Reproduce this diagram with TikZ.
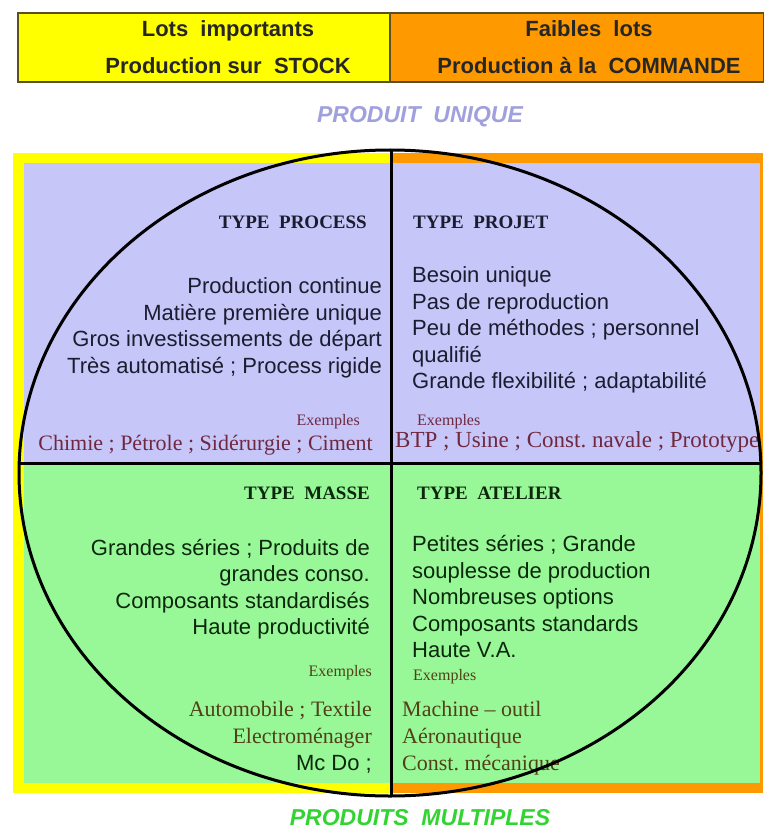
\documentclass[tikz,border=0pt]{standalone}
\usepackage{fontspec}
\setmainfont{Liberation Sans}
\newfontfamily\timesfont{Liberation Serif}
\usepackage{xcolor}
\usetikzlibrary{positioning}
\frenchspacing
\definecolor{jaune}{RGB}{255,255,0}
\definecolor{orangef}{RGB}{255,153,0}
\definecolor{lavande}{RGB}{198,198,248}
\definecolor{vertp}{RGB}{152,248,152}
\definecolor{bordtete}{RGB}{90,80,40}
\definecolor{coulunique}{RGB}{160,160,222}
\definecolor{coulmulti}{RGB}{50,212,50}
\definecolor{bordeaux}{RGB}{112,40,64}
\definecolor{olive}{RGB}{82,64,24}
\definecolor{encre}{RGB}{28,28,48}
\definecolor{encrevert}{RGB}{12,40,12}
\tikzset{
  tete/.style={font=\fontsize{22}{37}\selectfont\bfseries, align=center, text=black!85, inner sep=0pt},
  titre/.style={font=\timesfont\fontsize{19}{22}\selectfont\bfseries, inner sep=0pt},
  desc/.style={font=\fontsize{22}{26.5}\selectfont, inner sep=0pt},
  ex/.style={font=\timesfont\fontsize{16}{18}\selectfont, inner sep=0pt},
  exliste/.style={font=\timesfont\fontsize{22}{27}\selectfont, inner sep=0pt},
  grand/.style={font=\fontsize{23}{26}\selectfont\bfseries\itshape, inner sep=0pt},
  trait/.style={line width=3pt, black}
}
\begin{document}
\begin{tikzpicture}[x=1pt, y=-1pt]
    \useasboundingbox[fill=white] (0,0) rectangle (763,834);
    % En-tete
    \draw[fill=jaune, draw=bordtete, line width=2pt] (18,13) rectangle (390,82);
    \draw[fill=orangef, draw=bordtete, line width=2pt] (390,13) rectangle (764,82);
    \node[tete] (stock) at (228,47) {Lots\ \ importants\\Production sur\ \ STOCK};
    \node[tete] (commande) at (589,47) {Faibles\ \ lots\\Production à la\ \ COMMANDE};
    \node[grand, text=coulunique] (unique) at (420,117) {PRODUIT\ \ UNIQUE};
    % Cadres et fonds
    \fill[jaune] (13,153) rectangle (392,793);
    \fill[orangef] (392,153) rectangle (763,793);
    \fill[lavande] (24,163) rectangle (760,463);
    \fill[vertp] (24,463) rectangle (760,783);
    % Quadrant process
    \node[titre, text=encre, anchor=east] (process) at (367,222) {TYPE\ \ PROCESS};
    \node[desc, text=encre, align=right, anchor=east] (processdesc) at (382,328)
      {Production continue\\Matière première unique\\Gros investissements de départ\\Très automatisé ; Process rigide};
    \node[ex, text=bordeaux, anchor=east] (processex) at (360,422) {Exemples};
    \node[exliste, text=bordeaux, anchor=east] (processliste) at (373,445) {Chimie ; Pétrole ; Sidérurgie ; Ciment};
    % Quadrant projet
    \node[titre, text=encre, anchor=west] (projet) at (413,222) {TYPE\ \ PROJET};
    \node[desc, text=encre, align=left, anchor=west] (projetdesc) at (412,330)
      {Besoin unique\\Pas de reproduction\\Peu de méthodes ; personnel\\qualifié\\Grande flexibilité ; adaptabilité};
    \node[ex, text=bordeaux, anchor=west] (projetex) at (417,422) {Exemples};
    \node[exliste, text=bordeaux, anchor=west, font=\timesfont\fontsize{23}{27}\selectfont] (projetliste) at (395,442) {BTP ; Usine ; Const. navale ; Prototype};
    % Quadrant masse
    \node[titre, text=encrevert, anchor=east] (masse) at (370,493) {TYPE\ \ MASSE};
    \node[desc, text=encrevert, align=right, anchor=east] (massedesc) at (370,589)
      {Grandes séries ; Produits de\\grandes conso.\\Composants standardisés\\Haute productivité};
    \node[ex, text=olive, anchor=east] (masseex) at (372,673) {Exemples};
    \node[exliste, text=olive, align=right, anchor=east] (masseliste) at (372,737)
      {Automobile ; Textile\\Electroménager\\{\normalfont\color{encrevert}Mc Do ;}};
    % Quadrant atelier
    \node[titre, text=encrevert, anchor=west] (atelier) at (417,493) {TYPE\ \ ATELIER};
    \node[desc, text=encrevert, align=left, anchor=west] (atelierdesc) at (412,597)
      {Petites séries ; Grande\\souplesse de production\\Nombreuses options\\Composants standards\\Haute V.A.};
    \node[ex, text=olive, anchor=west] (atelierex) at (413,677) {Exemples};
    \node[exliste, text=olive, align=left, anchor=west] (atelierliste) at (402,738)
      {Machine – outil\\Aéronautique\\Const. mécanique};
    % Cercle et axes
    \coordinate (centre) at (390,473);
    \draw[trait] (centre) ellipse [x radius=371pt, y radius=323pt];
    \draw[trait] (391,150) -- (391,796);
    \draw[trait] (19,463) -- (761,463);
    \node[grand, text=coulmulti] (multiples) at (420,818) {PRODUITS\ \ MULTIPLES};
\end{tikzpicture}
\end{document}
